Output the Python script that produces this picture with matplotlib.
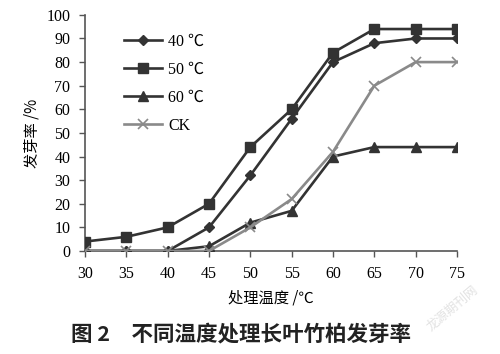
import matplotlib.pyplot as plt

# Treatment temperature (x axis)
temps = [30, 35, 40, 45, 50, 55, 60, 65, 70, 75]

# Germination rate (%) per treatment
rate_40 = [0, 0, 0, 10, 32, 56, 80, 88, 90, 90]
rate_50 = [4, 6, 10, 20, 44, 60, 84, 94, 94, 94]
rate_60 = [0, 0, 0, 2, 12, 17, 40, 44, 44, 44]
rate_ck = [0, 0, 0, 0, 10, 22, 42, 70, 80, 80]

x_ticks = [30, 35, 40, 45, 50, 55, 60, 65, 70, 75]
y_ticks = [0, 10, 20, 30, 40, 50, 60, 70, 80, 90, 100]

SERIF = ['Liberation Serif', 'Noto Sans CJK SC', 'DejaVu Sans']
CJK = ['Noto Sans CJK SC', 'DejaVu Sans']

fig = plt.figure(figsize=(5.0, 3.54), dpi=100)
ax = fig.add_axes([0.17, 0.291, 0.744, 0.667])

dark = '#333333'
ax.plot(temps, rate_40, color=dark, lw=1.9, marker='D', ms=5, label='40 ℃')
ax.plot(temps, rate_50, color=dark, lw=1.9, marker='s', ms=7.5, label='50 ℃')
ax.plot(temps, rate_60, color=dark, lw=1.9, marker='^', ms=7.5, label='60 ℃')
ax.plot(temps, rate_ck, color='#8a8a8a', lw=1.9, marker='x', ms=7.5, mew=1.2, label='CK')

ax.set_xlim(30, 75)
ax.set_ylim(0, 100)
ax.set_xticks(x_ticks)
ax.set_yticks(y_ticks)
ax.tick_params(direction='out', length=4.5, width=1, color='#555555', labelsize=11.5, pad=6)
for lab in ax.get_xticklabels() + ax.get_yticklabels():
    lab.set_family(SERIF)

for side in ('top', 'right'):
    ax.spines[side].set_visible(False)
for side in ('left', 'bottom'):
    ax.spines[side].set_color('#555555')
    ax.spines[side].set_linewidth(1.2)
ax.spines['left'].set_zorder(0)
ax.spines['bottom'].set_zorder(0)

leg = ax.legend(loc='upper left', bbox_to_anchor=(0.065, 0.98), frameon=False,
                handlelength=2.4, labelspacing=0.75, handletextpad=0.4,
                prop={'family': SERIF, 'size': 11.5})

ax.set_xlabel('处理温度 /℃', family=CJK, fontsize=11, labelpad=6)
ax.set_ylabel('发芽率 /%', family=CJK, fontsize=11, labelpad=4)

fig.text(0.482, 0.058, '图 2　不同温度处理长叶竹柏发芽率', family=CJK, fontsize=15.5,
         fontweight='bold', ha='center', va='center', color='#222222')

# faint watermark
fig.text(0.905, 0.13, '龙源期刊网', family=CJK, fontsize=9, rotation=40,
         color='#e2e2e2', ha='center', va='center')

fig.savefig('out.png', dpi=100)
